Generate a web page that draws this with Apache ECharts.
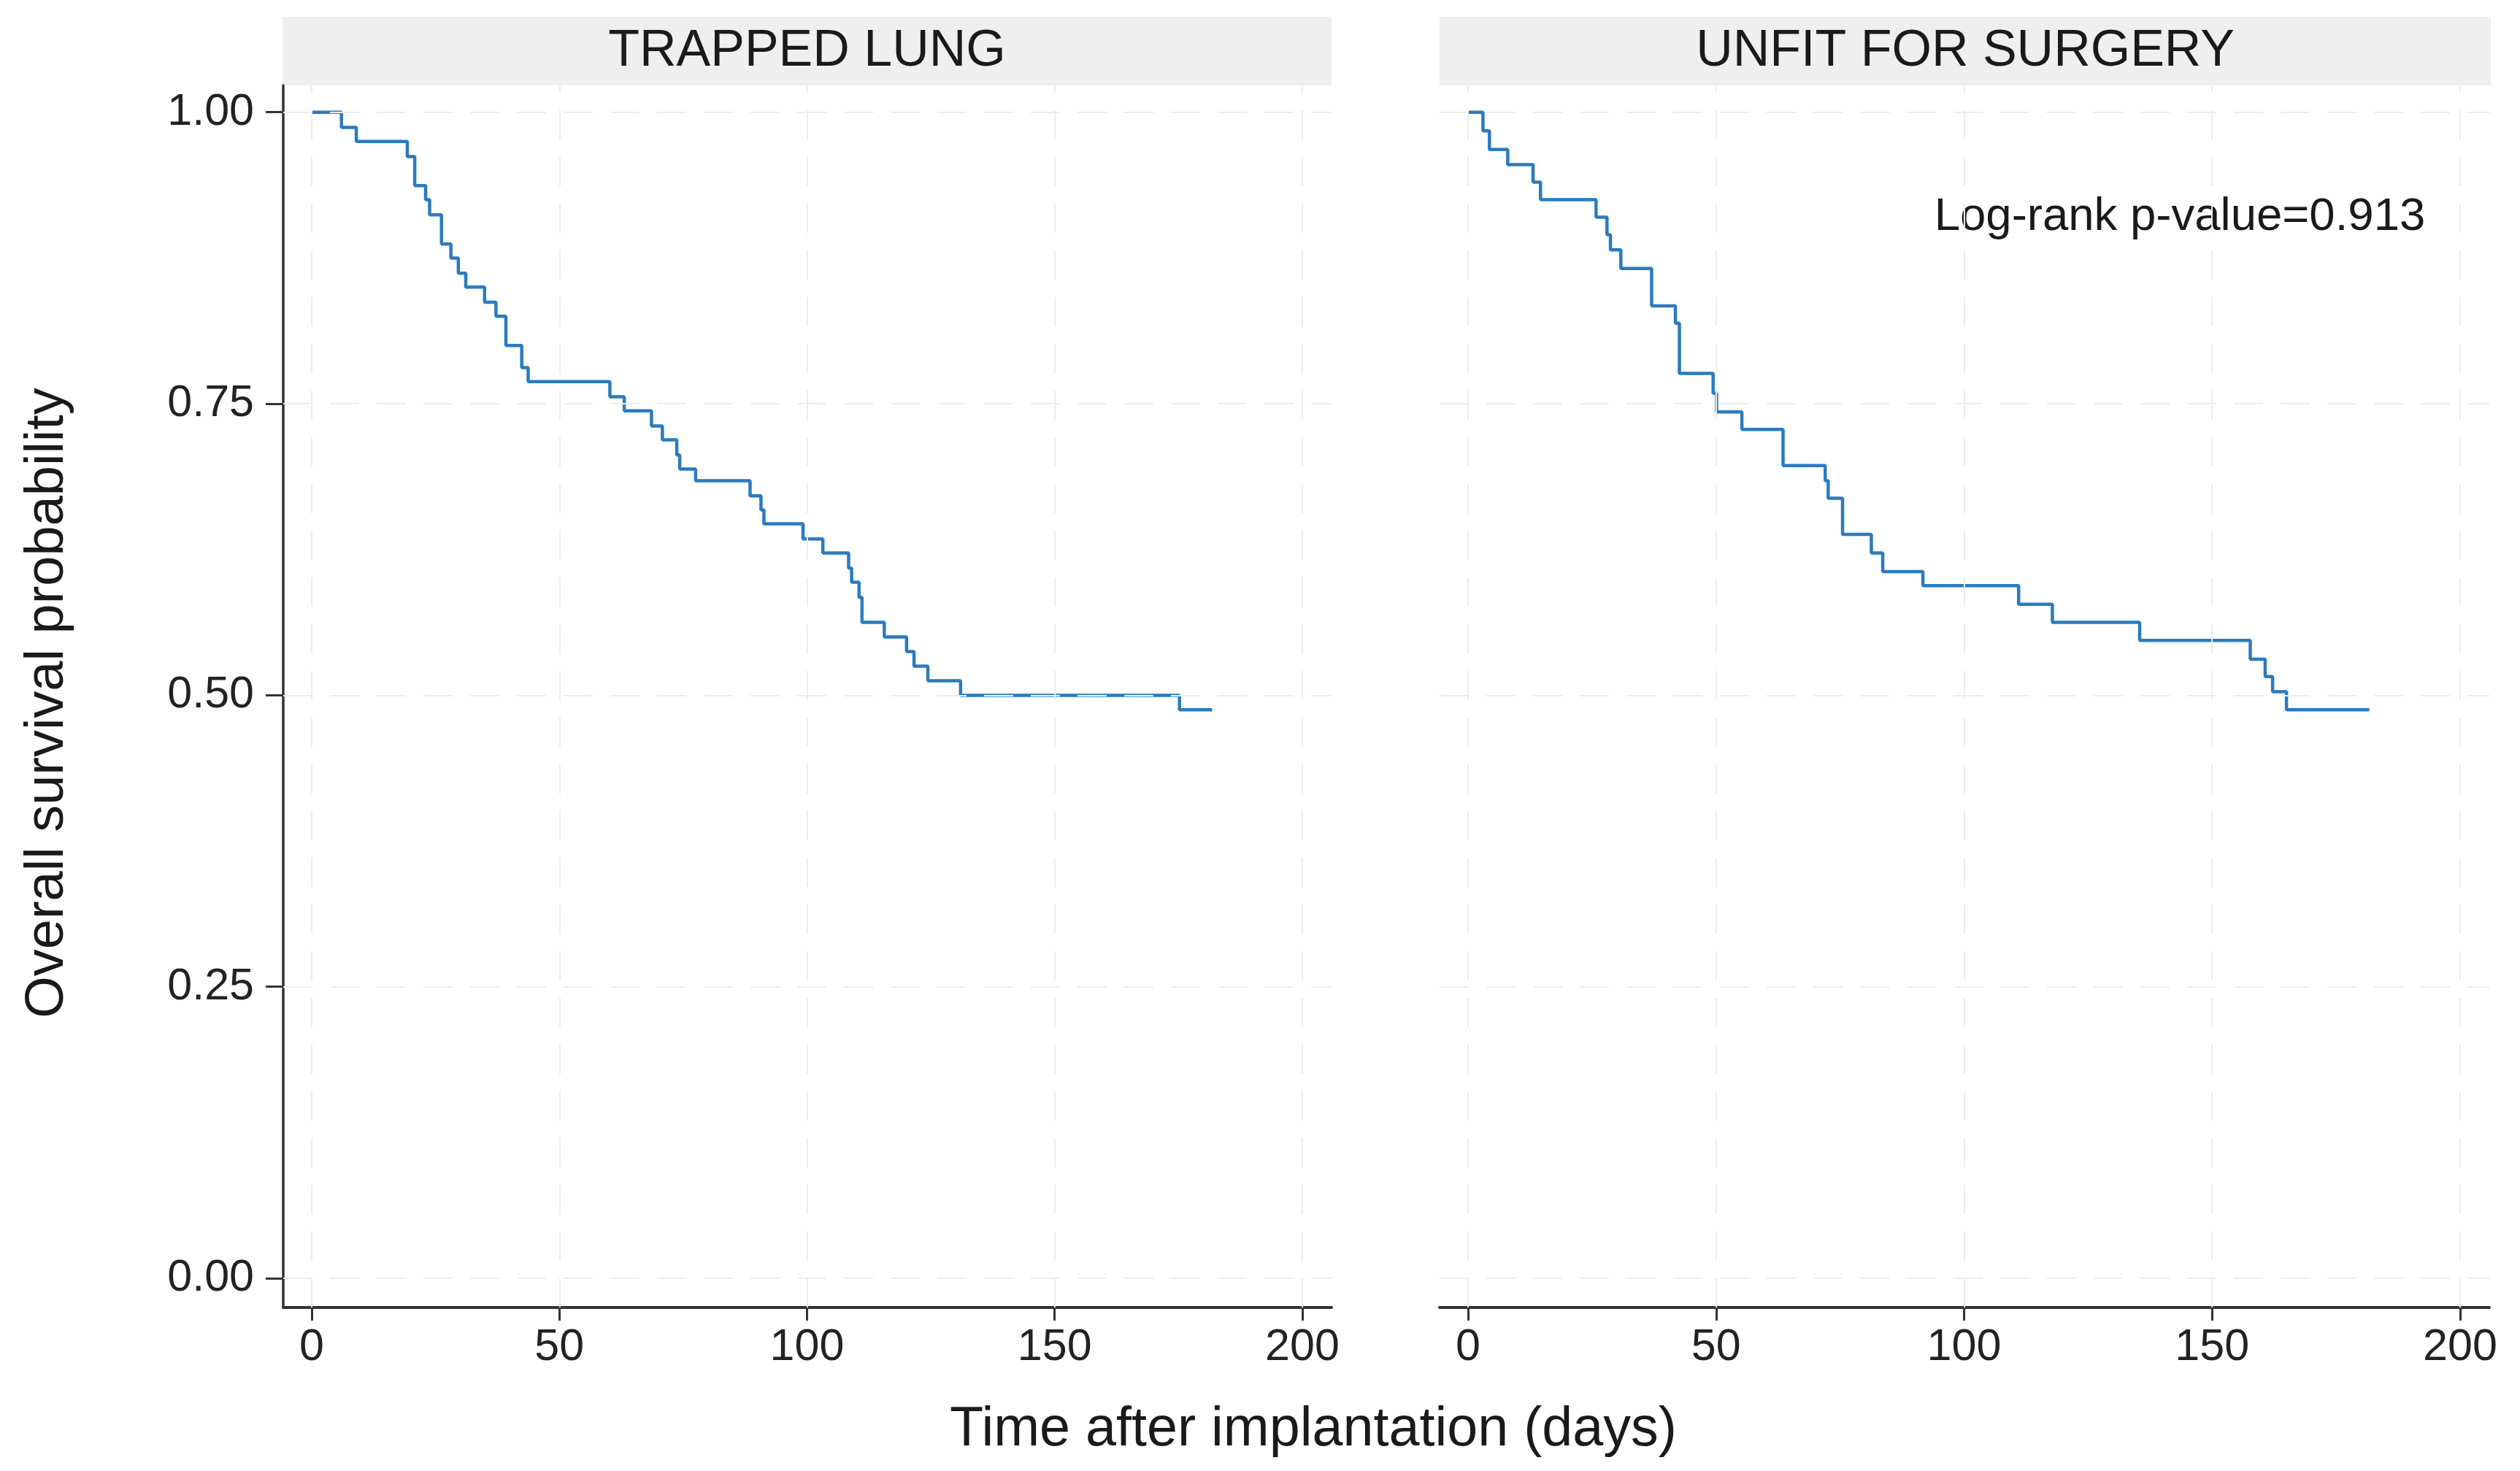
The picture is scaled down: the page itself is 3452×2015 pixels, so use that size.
<!DOCTYPE html>
<html>
<head>
<meta charset="utf-8">
<title>Overall survival</title>
<script src="https://cdn.jsdelivr.net/npm/echarts@6/dist/echarts.min.js"></script>
<style>
  html, body {margin: 0; padding: 0; background: #fff}
  #main {width: 3452px; height: 2015px}
</style>
</head>
<body>
<div id="main"></div>
<script>
var panelNames = ['TRAPPED LUNG', 'UNFIT FOR SURGERY']

// Kaplan-Meier steps (days, survival)
var trappedTime = [0, 6.0, 9.0, 19.3, 20.8, 23.0, 23.8, 26.2, 28.1, 29.6, 31.1, 34.9, 37.2, 39.2, 42.4, 43.7,
  60.2, 63.1, 68.6, 70.8, 73.7, 74.3, 77.5, 88.5, 90.7, 91.3, 99.2, 103.2, 108.4, 109.0, 110.5, 111.1,
  115.6, 120.1, 121.6, 124.4, 131.0, 175.2, 181.8]
var trappedSurv = [1.000, 0.987, 0.975, 0.962, 0.937, 0.925, 0.912, 0.887, 0.875, 0.862, 0.850, 0.837, 0.825, 0.800, 0.781, 0.769,
  0.756, 0.744, 0.731, 0.719, 0.706, 0.694, 0.684, 0.671, 0.659, 0.647, 0.634, 0.622, 0.609, 0.597, 0.584, 0.5625,
  0.550, 0.5375, 0.525, 0.5125, 0.500, 0.4875, 0.4875]

var unfitTime = [0, 3.0, 4.3, 8.0, 13.1, 14.6, 25.8, 28.0, 28.7, 30.8, 37.0, 41.8, 42.6, 49.4, 50.1, 55.2,
  63.5, 72.0, 72.6, 75.5, 81.3, 83.6, 91.7, 111.0, 117.8, 135.4, 157.7, 160.7, 162.2, 165.0, 181.7]
var unfitSurv = [1.000, 0.984, 0.968, 0.955, 0.940, 0.925, 0.910, 0.895, 0.882, 0.866, 0.834, 0.819, 0.776, 0.759, 0.743, 0.728,
  0.697, 0.684, 0.669, 0.638, 0.622, 0.606, 0.594, 0.578, 0.5625, 0.547, 0.531, 0.516, 0.503, 0.4875, 0.4875]

var xTicks = [0, 50, 100, 150, 200]
var yTicks = [0, 0.25, 0.5, 0.75, 1]
var xTitle = 'Time after implantation (days)'
var yTitle = 'Overall survival probability'
var pValueText = 'Log-rank p-value=0.913'

var fontFam = '"Liberation Sans", Arial, Helvetica, sans-serif'
var lineColor = '#2a7bbf'
var axisColor = '#333333'
var gridColor = '#ececec'

var gridBoxes = [
  {left: 388, top: 117, width: 1436, height: 1674},
  {left: 1972, top: 117, width: 1438, height: 1674}
]

function pairs (t, s) {
  return t.map(function (v, i) { return [v, s[i]] })
}

function makeX (i) {
  return {
    type: 'value', gridIndex: i, min: -5.75, max: 205.9,
    axisLine: {show: true, onZero: false, lineStyle: {color: axisColor, width: 4}},
    axisTick: {show: true, customValues: xTicks, length: 18, lineStyle: {color: axisColor, width: 3}},
    axisLabel: {customValues: xTicks, margin: 25, fontSize: 61, color: '#222', fontFamily: fontFam},
    splitLine: {show: false}
  }
}

function makeY (i) {
  var show = i === 0
  return {
    type: 'value', gridIndex: i, min: -0.025, max: 1.023,
    axisLine: {show: show, onZero: false, lineStyle: {color: axisColor, width: 3.5}},
    axisTick: {show: show, customValues: yTicks, length: 24, lineStyle: {color: axisColor, width: 3}},
    axisLabel: {show: show, customValues: yTicks, margin: 40, fontSize: 61, color: '#222', fontFamily: fontFam,
      formatter: function (v) { return v.toFixed(2) }},
    splitLine: {show: false}
  }
}

function gridSeries (i) {
  var marks = xTicks.map(function (v) { return {xAxis: v} })
    .concat(yTicks.map(function (v) { return {yAxis: v} }))
  return {
    type: 'line', xAxisIndex: i, yAxisIndex: i, data: [[0, 1]], z: 1, silent: true,
    symbol: 'none', lineStyle: {width: 0, opacity: 0},
    markLine: {silent: true, symbol: 'none', animation: false, label: {show: false},
      lineStyle: {color: gridColor, width: 2, type: [40, 24]}, data: marks}
  }
}

function kmSeries (i, t, s) {
  return {
    type: 'line', name: panelNames[i], xAxisIndex: i, yAxisIndex: i, step: 'end', z: 3,
    symbol: 'none', data: pairs(t, s), lineStyle: {color: lineColor, width: 4.5}, animation: false
  }
}

var graphics = []
var strips = [[387, 1437], [1972, 1440]]
strips.forEach(function (s, i) {
  graphics.push({type: 'rect', shape: {x: s[0], y: 23, width: s[1], height: 94}, style: {fill: '#efefef'}, silent: true})
  graphics.push({type: 'text', x: s[0] + s[1] / 2, y: 71,
    style: {text: panelNames[i], fontSize: 70, fontFamily: fontFam, fill: '#1a1a1a', align: 'center', verticalAlign: 'middle'}})
})
graphics.push({type: 'text', x: 1799, y: 1959,
  style: {text: xTitle, fontSize: 75.5, fontFamily: fontFam, fill: '#1a1a1a', align: 'center', verticalAlign: 'middle'}})
graphics.push({type: 'text', x: 66, y: 963, rotation: Math.PI / 2,
  style: {text: yTitle, fontSize: 74, fontFamily: fontFam, fill: '#1a1a1a', align: 'center', verticalAlign: 'middle'}})
graphics.push({type: 'text', x: 2986, y: 297,
  style: {text: pValueText, fontSize: 63.5, fontFamily: fontFam, fill: '#1a1a1a', align: 'center', verticalAlign: 'middle'}})

var chart = echarts.init(document.getElementById('main'), null, {renderer: 'canvas'})
chart.setOption({
  backgroundColor: '#ffffff',
  animation: false,
  grid: gridBoxes,
  xAxis: [makeX(0), makeX(1)],
  yAxis: [makeY(0), makeY(1)],
  series: [
    gridSeries(0), gridSeries(1),
    kmSeries(0, trappedTime, trappedSurv),
    kmSeries(1, unfitTime, unfitSurv)
  ],
  graphic: graphics
})
window.addEventListener('resize', chart.resize)
</script>
</body>
</html>
